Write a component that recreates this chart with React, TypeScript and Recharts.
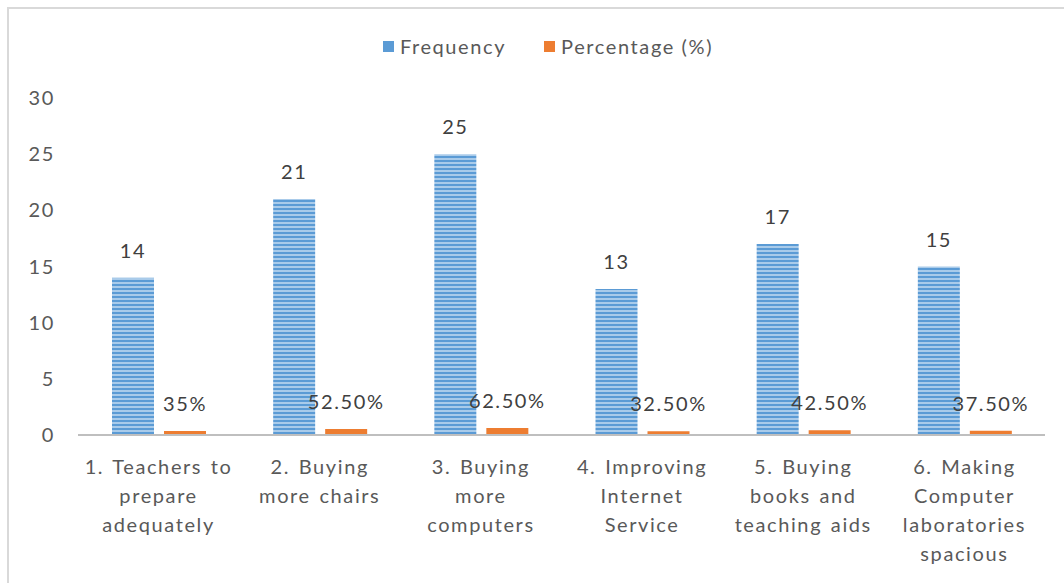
import React from "react";
import { BarChart, Bar, XAxis, YAxis, LabelList } from "recharts";

const categories = [
  "1. Teachers to\nprepare\nadequately",
  "2. Buying\nmore chairs",
  "3. Buying\nmore\ncomputers",
  "4. Improving\nInternet\nService",
  "5. Buying\nbooks and\nteaching aids",
  "6. Making\nComputer\nlaboratories\nspacious",
];
const frequency = [14, 21, 25, 13, 17, 15];
const percentage = [0.35, 0.525, 0.625, 0.325, 0.425, 0.375];
const percentageLabels = ["35%", "52.50%", "62.50%", "32.50%", "42.50%", "37.50%"];
const yTicks = [0, 5, 10, 15, 20, 25, 30];
const seriesNames = ["Frequency", "Percentage (%)"];

const data = categories.map((c, i) => ({
  name: c,
  freq: frequency[i],
  pct: percentage[i],
  pctLabel: percentageLabels[i],
}));

const FONT = "Lato, 'Open Sans', sans-serif";
const TEXT = "#595959";
const LS = 1.6;
const FS = 20;

const XTick = (props: any) => {
  const { x, y, payload } = props;
  const lines = String(payload.value).split("\n");
  return (
    <text
      x={x}
      y={y}
      textAnchor="middle"
      fill={TEXT}
      fontSize={FS}
      fontFamily={FONT}
      letterSpacing={LS}
      wordSpacing={2}
    >
      {lines.map((l: string, i: number) => (
        <tspan key={i} x={x} dy={i === 0 ? 31 : 29}>
          {l}
        </tspan>
      ))}
    </text>
  );
};

const LegendBox = () => (
  <div
    style={{
      position: "absolute",
      left: 0,
      top: 33,
      width: 1064,
      display: "flex",
      justifyContent: "center",
      alignItems: "center",
      fontFamily: FONT,
      fontSize: FS,
      letterSpacing: LS,
      color: TEXT,
      gap: 38,
      paddingLeft: 32,
      boxSizing: "border-box",
      lineHeight: "26px",
    }}
  >
    <span style={{ display: "flex", alignItems: "center" }}>
      <span style={{ width: 11, height: 11, background: "#5B9BD5", marginRight: 6, display: "inline-block" }} />
      {seriesNames[0]}
    </span>
    <span style={{ display: "flex", alignItems: "center" }}>
      <span style={{ width: 11, height: 11, background: "#ED7D31", marginRight: 6, display: "inline-block" }} />
      {seriesNames[1]}
    </span>
  </div>
);

export default function App() {
  return (
    <div style={{ position: "absolute", left: 0, top: 0, width: 1064, height: 583, background: "#fff" }}>
      <div
        style={{
          position: "absolute",
          left: 7,
          top: 7,
          right: 0,
          bottom: 0,
          borderLeft: "2px solid #d9d9d9",
          borderTop: "2px solid #d9d9d9",
        }}
      />
      <LegendBox />
      <BarChart
        width={1064}
        height={583}
        data={data}
        margin={{ top: 98, right: 19, bottom: 0, left: 0 }}
        barGap={10}
        style={{ position: "absolute", left: 0, top: 0 }}
      >
        <defs>
          <pattern id="stripes" patternUnits="userSpaceOnUse" width="8" height="4">
            <rect x="0" y="0" width="8" height="4" fill="#A9CBEA" />
            <rect x="0" y="0" width="8" height="2" fill="#5B9BD5" />
          </pattern>
        </defs>
        <XAxis
          dataKey="name"
          interval={0}
          height={148}
          tick={<XTick />}
          tickLine={false}
          axisLine={{ stroke: "#bfbfbf", strokeWidth: 2 }}
        />
        <YAxis
          domain={[0, 30]}
          ticks={yTicks}
          width={78}
          axisLine={false}
          tickLine={false}
          tickSize={0}
          tickMargin={23}
          tick={{ fill: TEXT, fontSize: FS, fontFamily: FONT, letterSpacing: LS }}
        />
        <Bar dataKey="freq" fill="url(#stripes)" barSize={42} isAnimationActive={false}>
          <LabelList
            dataKey="freq"
            position="top"
            offset={20}
            fill="#404040"
            fontSize={FS}
            fontFamily={FONT}
            letterSpacing={LS}
          />
        </Bar>
        <Bar dataKey="pct" fill="#ED7D31" barSize={42} isAnimationActive={false}>
          <LabelList
            dataKey="pctLabel"
            position="top"
            offset={20}
            fill="#404040"
            fontSize={FS}
            fontFamily={FONT}
            letterSpacing={LS}
          />
        </Bar>
      </BarChart>
    </div>
  );
}
